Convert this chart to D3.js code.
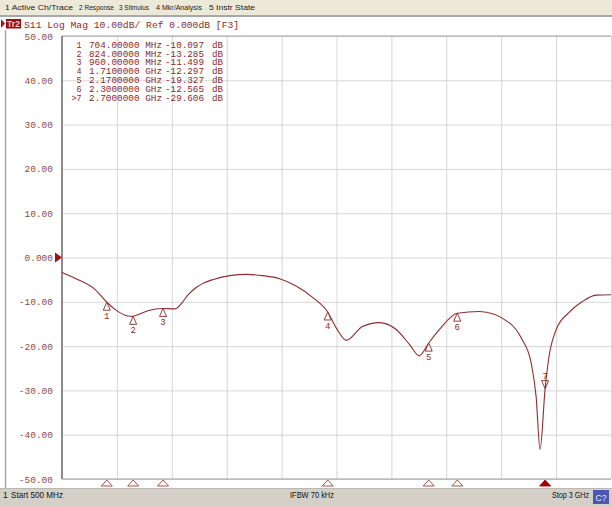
<!DOCTYPE html>
<html><head><meta charset="utf-8">
<script src="https://cdn.jsdelivr.net/npm/d3@7"></script>
<style>body{margin:0;background:#fff;} svg{display:block}</style>
</head><body><svg id="c" width="612" height="507"></svg>
<script>
// ---- data ----
const menuItems = ["1 Active Ch/Trace", "2 Response", "3 Stimulus", "4 Mkr/Analysis", "5 Instr State"];
const titleText = "S11 Log Mag 10.00dB/ Ref 0.000dB [F3]";
const traceName = "Tr2";
const freqMHz = [500, 559, 650, 704, 741, 800, 824, 845, 891, 960, 1014, 1045, 1075, 1105, 1140, 1186, 1264, 1341, 1414, 1491, 1568, 1641, 1710, 1750, 1795, 1868, 1945, 2023, 2082, 2127, 2170, 2218, 2300, 2400, 2536, 2595, 2636, 2659, 2677, 2700, 2718, 2750, 2809, 2868, 2932, 3000];
const s11dB = [-3.4, -4.7, -7.2, -10.1, -11.7, -13.2, -13.3, -12.9, -12.0, -11.5, -11.6, -10.3, -8.4, -7.0, -5.9, -5.0, -4.1, -3.8, -4.1, -4.8, -6.5, -9.0, -12.3, -16.0, -18.7, -15.6, -14.7, -16.3, -19.6, -22.2, -19.3, -16.3, -12.6, -12.2, -14.7, -18.5, -23.7, -31.4, -43.3, -29.6, -22.3, -16.3, -12.4, -10.0, -8.5, -8.4];
const markerIds = ["1", "2", "3", "4", "5", "6", "7"];
const markerFreqMHz = [704, 824, 960, 1710, 2170, 2300, 2700];
const markerDB = [-10.097, -13.285, -11.499, -12.297, -19.327, -12.565, -29.606];
const markerFreqText = ["704.00000 MHz", "824.00000 MHz", "960.00000 MHz", "1.7100000 GHz", "2.1700000 GHz", "2.3000000 GHz", "2.7000000 GHz"];
const markerValText = ["-10.097", "-13.285", "-11.499", "-12.297", "-19.327", "-12.565", "-29.606"];
const activeMarker = "7";
const yTicks = [50, 40, 30, 20, 10, 0, -10, -20, -30, -40, -50];
const yTickLabels = ["50.00", "40.00", "30.00", "20.00", "10.00", "0.000", "-10.00", "-20.00", "-30.00", "-40.00", "-50.00"];
const xTicksMHz = [500, 750, 1000, 1250, 1500, 1750, 2000, 2250, 2500, 2750, 3000];
const refLevel = 0;
const statusStart = "Start 500 MHz";
const statusIFBW = "IFBW 70 kHz";
const statusStop = "Stop 3 GHz";

// ---- drawing ----
const svg = d3.select("#c");
const L = 62, R = 611, T = 36, B = 479;
const x = d3.scaleLinear().domain([500, 3000]).range([L, R]);
const y = d3.scaleLinear().domain([-50, 50]).range([B, T]);
const red = "#8b2a2a", lab = "#8f4a4a";
const mono = "'Liberation Mono', 'DejaVu Sans Mono', monospace";
const sans = "'Liberation Sans', 'DejaVu Sans', sans-serif";

// menu bar
svg.append("rect").attr("x", 0).attr("y", 0).attr("width", 612).attr("height", 15).attr("fill", "#ece9d8");
svg.append("rect").attr("x", 0).attr("y", 15).attr("width", 612).attr("height", 2).attr("fill", "#a8a8a8");
const menuX = [5, 79, 119, 156, 209], menuW = [68, 35, 30, 46, 46];
svg.selectAll("text.menu").data(menuItems).join("text").attr("class", "menu")
  .attr("x", (d, i) => menuX[i]).attr("y", 10).attr("font-family", sans).attr("font-size", 7.8)
  .attr("textLength", (d, i) => menuW[i]).attr("lengthAdjust", "spacingAndGlyphs")
  .attr("fill", "#222").text(d => d);

// left outer border
svg.append("line").attr("x1", 5.5).attr("x2", 5.5).attr("y1", 30).attr("y2", 488).attr("stroke", "#a8a8a8").attr("stroke-width", 1.5);

// title row
svg.append("path").attr("d", "M1,19 L5,23.5 L1,28 Z").attr("fill", "#b01010");
svg.append("rect").attr("x", 6).attr("y", 19).attr("width", 15).attr("height", 9.5).attr("fill", "#9a0f0f");
svg.append("text").attr("x", 13.5).attr("y", 26.8).attr("text-anchor", "middle").attr("font-family", sans)
  .attr("font-size", 8.5).attr("font-weight", "bold").attr("fill", "#f0d0d0").text(traceName);
svg.append("text").attr("x", 24).attr("y", 27.5).attr("font-family", mono).attr("font-size", 9.7)
  .attr("fill", red).text(titleText);

// grid
svg.append("g").attr("transform", `translate(${L},0)`)
  .call(d3.axisLeft(y).tickValues(yTicks).tickSize(-(R - L)).tickFormat(""))
  .call(g => g.select(".domain").remove())
  .call(g => g.selectAll("line").attr("stroke", "#d6d6d6"));
svg.append("g").attr("transform", `translate(0,${B})`)
  .call(d3.axisBottom(x).tickValues(xTicksMHz).tickSize(-(B - T)).tickFormat(""))
  .call(g => g.select(".domain").remove())
  .call(g => g.selectAll("line").attr("stroke", "#d6d6d6"));

// frame
svg.append("line").attr("x1", L).attr("x2", R).attr("y1", T).attr("y2", T).attr("stroke", "#a0a0a0");
svg.append("line").attr("x1", L).attr("x2", R).attr("y1", B).attr("y2", B).attr("stroke", "#a0a0a0");
svg.append("line").attr("x1", L).attr("x2", L).attr("y1", T).attr("y2", B).attr("stroke", "#8c8c8c").attr("stroke-width", 2);

// y labels
svg.append("g").attr("transform", `translate(${L},0)`)
  .call(d3.axisLeft(y).tickValues(yTicks).tickSize(0).tickPadding(9).tickFormat((d, i) => yTickLabels[i]))
  .call(g => g.select(".domain").remove())
  .call(g => g.selectAll("text").attr("font-family", mono).attr("font-size", 9.5).attr("fill", lab));

// reference marker
svg.append("path").attr("d", `M${L - 7},${y(refLevel) - 5} L${L},${y(refLevel)} L${L - 7},${y(refLevel) + 5} Z`).attr("fill", "#a01010");

// trace
const pts = freqMHz.map((f, i) => [f, s11dB[i]]);
svg.append("path").datum(pts)
  .attr("d", d3.line().x(d => x(d[0])).y(d => y(d[1])).curve(d3.curveMonotoneX))
  .attr("fill", "none").attr("stroke", "#8b2e2e").attr("stroke-width", 1.1);

// markers on trace
markerIds.forEach((id, i) => {
  const mx = x(markerFreqMHz[i]), my = y(markerDB[i]);
  const g = svg.append("g");
  if (id === activeMarker) {
    g.append("path").attr("d", `M${mx},${my} L${mx - 3.5},${my - 8} L${mx + 3.5},${my - 8} Z`)
      .attr("fill", "none").attr("stroke", red).attr("stroke-width", 0.9);
    g.append("text").attr("x", mx).attr("y", my - 10).attr("text-anchor", "middle")
      .attr("font-family", mono).attr("font-size", 9).attr("fill", red).text(id);
  } else {
    g.append("path").attr("d", `M${mx},${my} L${mx - 3.5},${my + 8} L${mx + 3.5},${my + 8} Z`)
      .attr("fill", "#fff").attr("stroke", red).attr("stroke-width", 0.9);
    g.append("text").attr("x", mx).attr("y", my + 17).attr("text-anchor", "middle")
      .attr("font-family", mono).attr("font-size", 9).attr("fill", red).text(id);
  }
});

// marker table
const rowY0 = 47.8, rowDY = 8.8;
markerIds.forEach((id, i) => {
  const ty = rowY0 + i * rowDY;
  const t = svg.append("g").attr("font-family", mono).attr("font-size", 8.4).attr("fill", red);
  t.append("text").attr("x", 81.5).attr("y", ty).attr("text-anchor", "end").text(id === activeMarker ? ">" + id : id);
  t.append("text").attr("x", 89).attr("y", ty).attr("textLength", 73).attr("lengthAdjust", "spacingAndGlyphs").text(markerFreqText[i]);
  t.append("text").attr("x", 165).attr("y", ty).attr("textLength", 39).attr("lengthAdjust", "spacingAndGlyphs").text(markerValText[i]);
  t.append("text").attr("x", 212).attr("y", ty).attr("textLength", 11).attr("lengthAdjust", "spacingAndGlyphs").text("dB");
});

// bottom marker triangles
markerIds.forEach((id, i) => {
  const mx = x(markerFreqMHz[i]);
  const active = id === activeMarker;
  svg.append("path").attr("d", `M${mx},${B + 1} L${mx - 5.5},${B + 7} L${mx + 5.5},${B + 7} Z`)
    .attr("fill", active ? "#a00000" : "#fff").attr("stroke", active ? "#a00000" : "#a03a3a").attr("stroke-width", 0.9);
});

// status bar
svg.append("rect").attr("x", 0).attr("y", 488).attr("width", 612).attr("height", 19).attr("fill", "#d4d0c8");
svg.append("line").attr("x1", 0).attr("x2", 612).attr("y1", 488.5).attr("y2", 488.5).attr("stroke", "#bdb9b0");
const st = svg.append("g").attr("font-family", sans).attr("font-size", 8.5).attr("fill", "#111");
st.append("text").attr("x", 3).attr("y", 498).text("1");
st.append("text").attr("x", 11).attr("y", 498).attr("textLength", 52).attr("lengthAdjust", "spacingAndGlyphs").text(statusStart);
st.append("text").attr("x", 290).attr("y", 498).attr("textLength", 44).attr("lengthAdjust", "spacingAndGlyphs").text(statusIFBW);
st.append("text").attr("x", 552).attr("y", 498).attr("textLength", 37).attr("lengthAdjust", "spacingAndGlyphs").text(statusStop);
svg.append("rect").attr("x", 593).attr("y", 490).attr("width", 16).attr("height", 14).attr("fill", "#4a58b0");
svg.append("text").attr("x", 601).attr("y", 500.5).attr("text-anchor", "middle").attr("font-family", sans)
  .attr("font-size", 8.5).attr("fill", "#e8ecff").text("C?");
</script>
</body></html>
